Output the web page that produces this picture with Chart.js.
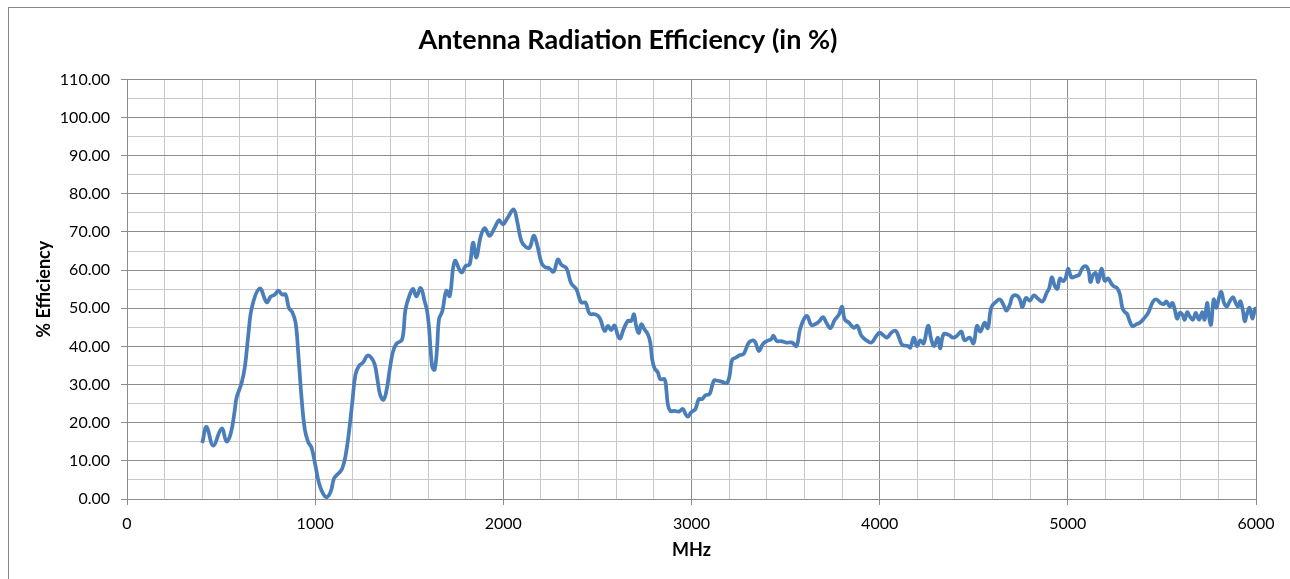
<!DOCTYPE html>
<html>
<head>
<meta charset="utf-8">
<script src="https://cdn.jsdelivr.net/npm/chart.js@4"></script>
<style>
  html, body { margin: 0; padding: 0; background: #fff; }
  #wrap { width: 1290px; height: 579px; }
</style>
</head>
<body>
<div id="wrap"><canvas id="effChart"></canvas></div>
<script>
const freqMHz = [
  400, 423, 458, 503, 529, 552, 573, 582, 609, 627, 644, 665, 706, 742, 765, 786, 804, 825, 843, 860,
  878, 896, 910, 927, 945, 963, 981, 1002, 1020, 1042, 1062, 1083, 1101, 1122, 1143, 1161, 1179, 1197, 1214, 1232,
  1255, 1278, 1299, 1317, 1331, 1345, 1363, 1380, 1396, 1414, 1432, 1462, 1480, 1503, 1520, 1538, 1561, 1582, 1595, 1605,
  1614, 1623, 1635, 1648, 1658, 1676, 1697, 1715, 1742, 1777, 1800, 1821, 1839, 1857, 1878, 1901, 1927, 1954, 1977, 1998,
  2025, 2055, 2073, 2096, 2119, 2140, 2161, 2179, 2202, 2220, 2243, 2267, 2290, 2308, 2335, 2361, 2388, 2414, 2437, 2458,
  2490, 2512, 2538, 2556, 2573, 2591, 2609, 2621, 2639, 2662, 2680, 2694, 2706, 2720, 2733, 2750, 2768, 2781, 2791, 2804,
  2821, 2834, 2857, 2866, 2874, 2887, 2910, 2933, 2954, 2968, 2981, 2998, 3021, 3039, 3057, 3074, 3096, 3119, 3140, 3163,
  3188, 3202, 3216, 3237, 3255, 3276, 3290, 3308, 3335, 3358, 3379, 3400, 3423, 3435, 3453, 3476, 3503, 3535, 3558, 3575,
  3593, 3614, 3637, 3664, 3681, 3699, 3717, 3738, 3761, 3784, 3800, 3814, 3837, 3862, 3881, 3903, 3929, 3956, 3979, 4000,
  4018, 4039, 4062, 4085, 4103, 4120, 4150, 4163, 4181, 4198, 4216, 4234, 4257, 4274, 4289, 4310, 4322, 4340, 4368, 4389,
  4411, 4434, 4451, 4478, 4499, 4517, 4535, 4558, 4575, 4593, 4618, 4639, 4657, 4674, 4692, 4706, 4731, 4745, 4759, 4777,
  4798, 4819, 4842, 4866, 4887, 4901, 4915, 4931, 4945, 4958, 4975, 4988, 5002, 5019, 5042, 5060, 5078, 5096, 5110, 5120,
  5135, 5149, 5161, 5179, 5196, 5214, 5232, 5244, 5262, 5276, 5290, 5303, 5315, 5329, 5343, 5361, 5382, 5404, 5427, 5453,
  5471, 5492, 5510, 5524, 5542, 5556, 5568, 5581, 5595, 5609, 5621, 5634, 5648, 5665, 5680, 5697, 5715, 5727, 5740, 5750,
  5761, 5775, 5789, 5804, 5816, 5830, 5846, 5860, 5878, 5892, 5905, 5917, 5931, 5940, 5952, 5966, 5981, 5995, 6000
];
const efficiency = [
  14.7, 18.9, 14.0, 18.5, 15.1, 17.3, 23.4, 26.5, 30.4, 34.8, 42.7, 50.5, 55.2, 51.6, 53.1, 53.6, 54.6, 53.6, 53.6, 50.1,
  49.0, 46.2, 38.3, 26.9, 18.2, 14.9, 13.4, 8.6, 4.2, 1.4, 0.5, 2.0, 5.5, 6.6, 7.9, 11.2, 17.3, 25.2, 32.6, 34.8,
  35.8, 37.6, 37.0, 35.2, 31.3, 27.4, 26.0, 28.7, 33.9, 38.7, 40.7, 41.8, 49.7, 53.6, 55.1, 53.1, 55.3, 51.8, 49.3, 45.0,
  38.8, 34.5, 33.9, 39.7, 47.1, 49.3, 54.6, 53.2, 62.4, 59.4, 61.1, 61.5, 67.2, 63.3, 68.5, 71.0, 69.0, 71.1, 73.1, 72.0,
  73.9, 75.9, 72.9, 67.6, 66.1, 65.9, 69.0, 66.8, 62.0, 60.8, 60.5, 59.6, 62.8, 61.4, 60.5, 56.5, 55.0, 51.5, 51.5, 48.6,
  48.4, 47.5, 44.1, 45.4, 44.3, 45.5, 42.8, 42.1, 44.5, 46.7, 46.7, 48.4, 45.4, 43.5, 45.8, 44.5, 43.2, 41.0, 36.6, 34.2,
  33.2, 31.4, 31.4, 28.8, 24.9, 23.1, 23.1, 22.9, 23.6, 22.3, 21.6, 22.7, 23.6, 26.2, 26.2, 27.2, 27.5, 31.0, 31.0, 30.7,
  30.4, 32.3, 36.5, 37.1, 37.7, 38.0, 39.4, 41.2, 41.4, 38.8, 40.6, 41.4, 41.9, 42.8, 41.4, 41.4, 41.0, 41.0, 40.1, 44.1,
  46.7, 48.0, 45.6, 46.0, 46.7, 47.7, 46.2, 44.8, 46.9, 48.4, 50.4, 47.1, 46.2, 44.9, 45.4, 42.8, 41.6, 41.0, 42.5, 43.6,
  43.0, 42.3, 43.6, 44.1, 42.3, 40.4, 40.1, 39.7, 42.3, 40.1, 41.6, 40.8, 45.4, 41.9, 40.1, 42.3, 39.5, 43.2, 43.0, 42.3,
  42.8, 43.9, 41.6, 42.3, 40.8, 45.4, 43.9, 46.2, 44.8, 50.2, 51.7, 52.3, 51.0, 49.4, 51.0, 53.1, 53.3, 52.3, 50.3, 52.7,
  52.0, 53.4, 52.5, 51.8, 54.0, 55.3, 58.1, 55.8, 55.1, 57.8, 57.1, 57.9, 60.4, 58.1, 58.4, 58.8, 60.6, 61.0, 59.9, 56.9,
  58.8, 59.2, 56.9, 60.4, 57.2, 57.8, 56.4, 55.8, 55.3, 53.8, 50.1, 49.0, 48.5, 46.6, 45.3, 45.7, 46.2, 47.3, 48.8, 51.8,
  52.3, 51.4, 51.1, 51.8, 50.5, 51.4, 49.7, 47.3, 48.8, 48.3, 47.0, 49.0, 47.9, 47.0, 48.8, 47.0, 49.0, 47.0, 51.4, 47.9,
  45.7, 52.3, 50.1, 52.9, 54.3, 51.4, 50.5, 51.8, 52.9, 51.4, 50.5, 51.8, 49.2, 46.6, 48.5, 50.1, 47.3, 49.9, 49.5
];

const chartTitle = 'Antenna Radiation Efficiency (in %)';
const xTitle = 'MHz';
const yTitle = '% Efficiency';

const points = freqMHz.map((f, i) => ({x: f, y: efficiency[i]}));

const majorGrid = '#8c8c8c';
const minorGrid = '#c8c8c8';

// outer frame like the spreadsheet chart border
const framePlugin = {
  id: 'frame',
  beforeDraw(chart) {
    const c = chart.ctx;
    c.save();
    c.fillStyle = '#fff';
    c.fillRect(0, 0, chart.width, chart.height);
    c.strokeStyle = '#868686';
    c.lineWidth = 1;
    c.strokeRect(8.5, 7.5, 1400, 700);
    c.restore();
  }
};

new Chart(document.getElementById('effChart'), {
  type: 'line',
  data: {
    datasets: [{
      data: points,
      borderColor: '#4a7ebb',
      borderWidth: 3.75,
      pointRadius: 0,
      tension: 0.4,
      fill: false
    }]
  },
  options: {
    responsive: true,
    maintainAspectRatio: false,
    animation: false,
    layout: {padding: {left: 0, right: 34, top: 0, bottom: 0}},
    plugins: {
      legend: {display: false},
      tooltip: {enabled: false},
      title: {
        display: true,
        text: chartTitle,
        color: '#000',
        font: {family: 'Lato', size: 27, weight: 'bold'},
        padding: {top: 24, bottom: 23}
      }
    },
    scales: {
      x: {
        type: 'linear',
        min: 0,
        max: 6000,
        afterFit(s) { s.height = 80; },
        border: {color: majorGrid},
        grid: {
          color: ctx => ctx.tick && ctx.tick.value % 1000 === 0 ? majorGrid : minorGrid,
          tickColor: ctx => ctx.tick && ctx.tick.value % 1000 === 0 ? majorGrid : 'rgba(0,0,0,0)',
          tickLength: 6
        },
        ticks: {
          stepSize: 200,
          autoSkip: false,
          maxRotation: 0,
          padding: 9,
          color: '#000',
          font: {family: 'Lato', size: 16},
          callback: v => v % 1000 === 0 ? String(v) : ''
        },
        title: {
          display: true,
          text: xTitle,
          color: '#000',
          font: {family: 'Lato', size: 18, weight: 'bold'},
          padding: {top: 0, bottom: 18}
        }
      },
      y: {
        min: 0,
        max: 110,
        afterFit(s) { s.width = 127; },
        border: {color: majorGrid},
        grid: {
          color: ctx => ctx.tick && ctx.tick.value % 10 === 0 ? majorGrid : minorGrid,
          tickColor: ctx => ctx.tick && ctx.tick.value % 10 === 0 ? majorGrid : 'rgba(0,0,0,0)',
          tickLength: 6
        },
        ticks: {
          stepSize: 5,
          autoSkip: false,
          padding: 11,
          color: '#000',
          font: {family: 'Lato', size: 16},
          callback: v => v % 10 === 0 ? v.toFixed(2) : ''
        },
        title: {
          display: true,
          text: yTitle,
          color: '#000',
          font: {family: 'Lato', size: 18, weight: 'bold'},
          padding: {top: 33, bottom: 0}
        }
      }
    }
  },
  plugins: [framePlugin]
});
</script>
</body>
</html>
